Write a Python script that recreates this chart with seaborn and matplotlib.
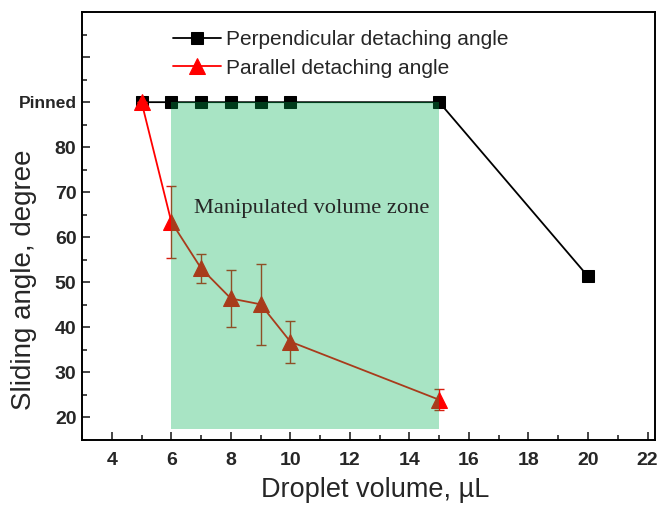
import numpy as np
import pandas as pd
import seaborn as sns
import matplotlib.pyplot as plt
from matplotlib.ticker import MultipleLocator

# perpendicular detaching angle (90 = pinned)
perp_volume = [5, 6, 7, 8, 9, 10, 15, 20]
perp_angle = [90, 90, 90, 90, 90, 90, 90, 51.3]

# parallel detaching angle with error bars
par_volume = [5, 6, 7, 8, 9, 10, 15]
par_angle = [90, 63.4, 53.1, 46.4, 45.1, 36.8, 23.9]
par_err = [0, 8.0, 3.2, 6.3, 9.0, 4.7, 2.3]

zone_start, zone_end = 6, 15
zone_low, zone_high = 17.5, 90

y_ticks = [20, 30, 40, 50, 60, 70, 80, 90, 100]
y_labels = ['20', '30', '40', '50', '60', '70', '80', 'Pinned', '']
x_ticks = [4, 6, 8, 10, 12, 14, 16, 18, 20, 22]

sns.set_style('ticks')
plt.rcParams['font.family'] = ['Liberation Sans', 'DejaVu Sans']

fig = plt.figure(figsize=(6.67, 5.05), dpi=100)
ax = fig.add_axes([0.123, 0.129, 0.859, 0.847])

perp = pd.DataFrame({'volume': perp_volume, 'angle': perp_angle})
par = pd.DataFrame({'volume': par_volume, 'angle': par_angle})

sns.lineplot(data=perp, x='volume', y='angle', ax=ax, color='black', lw=1.3,
             marker='s', markersize=8.5, markeredgecolor='black',
             label='Perpendicular detaching angle', zorder=2)
ax.errorbar(par_volume, par_angle, yerr=par_err, fmt='none', ecolor='#d81e10',
            elinewidth=1.0, capsize=3.5, capthick=1.0, zorder=3)
sns.lineplot(data=par, x='volume', y='angle', ax=ax, color='red', lw=1.3,
             marker='^', markersize=11, markeredgecolor='red',
             label='Parallel detaching angle', zorder=4)

# manipulated zone drawn over the data, as in the original
ax.fill_between([zone_start, zone_end], zone_low, zone_high,
                color=(0, 0.69, 0.32), alpha=0.34, lw=0, zorder=5)
ax.text(10.7, 66.4, 'Manipulated volume zone', family='Liberation Serif',
        fontsize=16.2, ha='center', va='center', zorder=6)

ax.set_xlim(3, 22.25)
ax.set_ylim(15, 110)
ax.set_xticks(x_ticks)
ax.xaxis.set_minor_locator(MultipleLocator(1))
ax.set_yticks(y_ticks)
ax.set_yticklabels(y_labels)
ax.yaxis.set_minor_locator(MultipleLocator(5))
ax.tick_params(which='both', direction='in', width=1.2, top=False, right=False)
ax.tick_params(which='major', length=6)
ax.tick_params(which='minor', length=3.5)
ax.tick_params(axis='x', pad=8.5)
ax.tick_params(axis='y', pad=4)
for lab in ax.get_xticklabels() + ax.get_yticklabels():
    lab.set_fontweight('bold')
    lab.set_fontsize(14)
ax.get_yticklabels()[7].set_fontsize(12.5)

for sp in ax.spines.values():
    sp.set_linewidth(1.4)
    sp.set_color('black')

ax.set_xlabel('Droplet volume, µL', fontsize=19.5)
ax.xaxis.set_label_coords(0.511, -0.087)
ax.xaxis.label.set_va('top')
ax.set_ylabel('Sliding angle, degree', fontsize=20)
ax.yaxis.set_label_coords(-0.079, 0.374)

ax.legend(loc='upper left', bbox_to_anchor=(0.152, 0.967), frameon=False,
          fontsize=15, handlelength=2.3, handletextpad=0.25,
          labelspacing=0.45, borderaxespad=0, borderpad=0.2)

fig.savefig('out.png', dpi=100)
